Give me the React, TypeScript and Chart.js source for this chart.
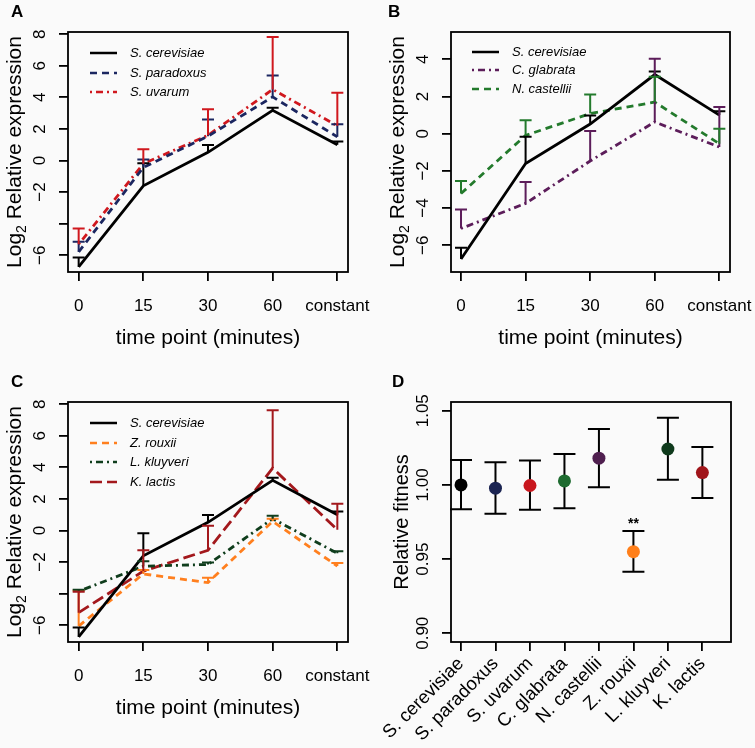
import React, { useEffect, useRef } from 'react';
import { Chart, registerables } from 'chart.js';

Chart.register(...registerables);

const FONT = "'Liberation Sans', Arial, Helvetica, sans-serif";

// ---------- data ----------
const timeLabels = ['0', '15', '30', '60', 'constant'];
const timeIdx = [1, 2, 3, 4, 5];

const cerevisiae = [-6.74, -1.6, 0.52, 3.18, 1.0];
const cerevisiaeUp = [-6.14, -0.17, 0.98, 3.34, 1.21];
const paradoxus = [-5.79, -0.44, 1.54, 4.03, 1.5];
const paradoxusUp = [-5.15, 0.06, 2.6, 5.38, 2.3];
const uvarum = [-5.3, -0.2, 1.6, 4.5, 2.2];
const uvarumUp = [-4.31, 0.72, 3.25, 7.83, 4.29];
const glabrata = [-5.1, -3.75, -1.47, 0.63, -0.72];
const glabrataUp = [-4.08, -2.6, 0.14, 4.03, 1.43];
const castellii = [-3.22, -0.09, 1.08, 1.7, -0.54];
const castelliiUp = [-2.54, 0.72, 2.11, 3.06, 0.27];
const rouxii = [-6.05, -2.75, -3.3, 0.58, -2.25];
const rouxiiUp = [-3.8, -2.5, -2.99, 0.75, -2.05];
const kluyveri = [-3.85, -2.26, -2.15, 0.75, -1.44];
const kluyveriUp = [-3.75, -1.94, -2.02, 0.94, -1.31];
const lactis = [-5.2, -2.57, -1.25, 3.95, 0.05];
const lactisUp = [-3.87, -1.25, 0.31, 7.62, 1.69];

const yTicksAC = [-6, -4, -2, 0, 2, 4, 6, 8];
const yTickLabelsAC = ['\u22126', '', '\u22122', '0', '2', '4', '6', '8'];
const yTicksB = [-6, -4, -2, 0, 2, 4];
const yTickLabelsB = ['\u22126', '\u22124', '\u22122', '0', '2', '4'];

const species = ['S. cerevisiae', 'S. paradoxus', 'S. uvarum', 'C. glabrata', 'N. castellii', 'Z. rouxii', 'L. kluyveri', 'K. lactis'];
const speciesIdx = [1, 2, 3, 4, 5, 6, 7, 8];
const fitness = [1.0, 0.9978, 0.9996, 1.0027, 1.018, 0.955, 1.0242, 1.0083];
const fitnessLow = [0.9836, 0.9805, 0.9832, 0.9843, 0.9984, 0.9415, 1.0034, 0.9912];
const fitnessHigh = [1.0168, 1.0153, 1.0164, 1.0209, 1.0377, 0.9689, 1.0453, 1.0256];
const significance = ['', '', '', '', '', '**', '', ''];
const fitnessTicks = [0.9, 0.95, 1.0, 1.05];
const fitnessTickLabels = ['0.90', '0.95', '1.00', '1.05'];

// ---------- styles ----------
const DASHED = [7, 5];
const DOTDASH = [2, 4, 7, 4];
const LONGDASH = [12, 5];

type Series = { name: string; values: number[]; upper: number[]; color: string; dash: number[] };

type LinePanel = {
  letter: string;
  left: number; top: number; width: number; height: number;
  series: Series[];
  xMin: number; xMax: number; yMin: number; yMax: number;
  yTicks: number[]; yTickLabels: string[];
  areaLeft: number; padRight: number; xAxisHeight: number;
  legendYs: number[]; legendX0: number; legendX1: number; legendTextX: number;
};

const panelA: LinePanel = {
  letter: 'A', left: 0, top: 0, width: 376, height: 370,
  series: [
    { name: 'S. cerevisiae', values: cerevisiae, upper: cerevisiaeUp, color: '#000000', dash: [] },
    { name: 'S. paradoxus', values: paradoxus, upper: paradoxusUp, color: '#1b2660', dash: DASHED },
    { name: 'S. uvarum', values: uvarum, upper: uvarumUp, color: '#d0181e', dash: DOTDASH },
  ],
  xMin: 0.835, xMax: 5.165, yMin: -7.06, yMax: 8.14,
  yTicks: yTicksAC, yTickLabels: yTickLabelsAC,
  areaLeft: 68, padRight: 28, xAxisHeight: 98,
  legendYs: [53, 73, 92], legendX0: 90, legendX1: 117, legendTextX: 130,
};

const panelB: LinePanel = {
  letter: 'B', left: 376, top: 0, width: 379, height: 370,
  series: [
    { name: 'S. cerevisiae', values: cerevisiae, upper: cerevisiaeUp, color: '#000000', dash: [] },
    { name: 'C. glabrata', values: glabrata, upper: glabrataUp, color: '#5c1d5a', dash: DOTDASH },
    { name: 'N. castellii', values: castellii, upper: castelliiUp, color: '#237a2c', dash: DASHED },
  ],
  xMin: 0.845, xMax: 5.165, yMin: -7.44, yMax: 5.47,
  yTicks: yTicksB, yTickLabels: yTickLabelsB,
  areaLeft: 75, padRight: 25, xAxisHeight: 98,
  legendYs: [52, 70, 89], legendX0: 96, legendX1: 123, legendTextX: 136,
};

const panelC: LinePanel = {
  letter: 'C', left: 0, top: 370, width: 376, height: 378,
  series: [
    { name: 'S. cerevisiae', values: cerevisiae, upper: cerevisiaeUp, color: '#000000', dash: [] },
    { name: 'Z. rouxii', values: rouxii, upper: rouxiiUp, color: '#ff7f1e', dash: DASHED },
    { name: 'L. kluyveri', values: kluyveri, upper: kluyveriUp, color: '#0f3d1c', dash: DOTDASH },
    { name: 'K. lactis', values: lactis, upper: lactisUp, color: '#a3181c', dash: LONGDASH },
  ],
  xMin: 0.835, xMax: 5.165, yMin: -7.06, yMax: 8.14,
  yTicks: yTicksAC, yTickLabels: yTickLabelsAC,
  areaLeft: 68, padRight: 28, xAxisHeight: 106,
  legendYs: [53, 73, 92, 112], legendX0: 90, legendX1: 117, legendTextX: 130,
};

const fitnessColors = ['#000000', '#1b2452', '#c8161d', '#1e6b30', '#4f1f4f', '#ff7f1a', '#0f3a1c', '#a0151a'];

// ---------- helpers ----------
function drawRotatedText(ctx: CanvasRenderingContext2D, x: number, y: number, segs: { text: string; size: number; dy?: number }[]) {
  ctx.save();
  ctx.translate(x, y);
  ctx.rotate(-Math.PI / 2);
  ctx.textAlign = 'left';
  ctx.textBaseline = 'alphabetic';
  let total = 0;
  for (const s of segs) {
    ctx.font = `${s.size}px ${FONT}`;
    total += ctx.measureText(s.text).width;
  }
  let cx = -total / 2;
  for (const s of segs) {
    ctx.font = `${s.size}px ${FONT}`;
    ctx.fillText(s.text, cx, s.dy || 0);
    cx += ctx.measureText(s.text).width;
  }
  ctx.restore();
}

function drawBox(chart: any) {
  const { ctx, chartArea: a } = chart;
  ctx.save();
  ctx.strokeStyle = '#000';
  ctx.lineWidth = 1.8;
  ctx.strokeRect(a.left, a.top, a.right - a.left, a.bottom - a.top);
  ctx.restore();
}

function drawYTickLabels(chart: any, ticks: number[], labels: string[], size: number) {
  const { ctx, chartArea: a } = chart;
  const ys = chart.scales.y;
  ctx.save();
  ctx.fillStyle = '#000';
  ctx.font = `${size}px ${FONT}`;
  ticks.forEach((v, i) => {
    const y = ys.getPixelForValue(v);
    ctx.save();
    ctx.translate(a.left - 23, y);
    ctx.rotate(-Math.PI / 2);
    ctx.textAlign = 'center';
    ctx.textBaseline = 'alphabetic';
    ctx.fillText(labels[i], 0, 0);
    ctx.restore();
  });
  ctx.restore();
}

function drawLetter(chart: any, letter: string, x: number) {
  const ctx = chart.ctx;
  ctx.save();
  ctx.fillStyle = '#000';
  ctx.font = `bold 17px ${FONT}`;
  ctx.textAlign = 'left';
  ctx.textBaseline = 'alphabetic';
  ctx.fillText(letter, x, 17);
  ctx.restore();
}

function makeLinePlugin(p: LinePanel) {
  return {
    id: 'decor' + p.letter,
    afterDatasetsDraw(chart: any) {
      const { ctx } = chart;
      const xs = chart.scales.x;
      const ys = chart.scales.y;
      ctx.save();
      ctx.lineWidth = 2;
      ctx.setLineDash([]);
      p.series.forEach((s) => {
        ctx.strokeStyle = s.color;
        s.values.forEach((v, j) => {
          const x = xs.getPixelForValue(timeIdx[j]);
          const y0 = ys.getPixelForValue(v);
          const y1 = ys.getPixelForValue(s.upper[j]);
          ctx.beginPath();
          ctx.moveTo(x, y0);
          ctx.lineTo(x, y1);
          ctx.moveTo(x - 6, y1);
          ctx.lineTo(x + 6, y1);
          ctx.stroke();
        });
      });
      ctx.restore();
    },
    afterDraw(chart: any) {
      const { ctx, chartArea: a } = chart;
      drawBox(chart);
      drawYTickLabels(chart, p.yTicks, p.yTickLabels, 17);
      ctx.save();
      ctx.fillStyle = '#000';
      drawRotatedText(ctx, a.left - 47, (a.top + a.bottom) / 2, [
        { text: 'Log', size: 21 },
        { text: '2', size: 14, dy: 5 },
        { text: ' Relative expression', size: 21 },
      ]);
      ctx.font = `21px ${FONT}`;
      ctx.textAlign = 'center';
      ctx.textBaseline = 'alphabetic';
      ctx.fillText('time point (minutes)', (a.left + a.right) / 2, 344);
      // legend
      p.series.forEach((s, i) => {
        const y = p.legendYs[i];
        ctx.strokeStyle = s.color;
        ctx.lineWidth = 2.5;
        ctx.setLineDash(s.dash);
        ctx.beginPath();
        ctx.moveTo(p.legendX0, y);
        ctx.lineTo(p.legendX1, y);
        ctx.stroke();
        ctx.setLineDash([]);
        ctx.fillStyle = '#000';
        ctx.font = `italic 13px ${FONT}`;
        ctx.textAlign = 'left';
        ctx.textBaseline = 'middle';
        ctx.fillText(s.name, p.legendTextX, y);
      });
      ctx.restore();
      drawLetter(chart, p.letter, p.letter === 'B' ? 12 : 11);
    },
  };
}

function lineConfig(p: LinePanel): any {
  const grid = { drawOnChartArea: false, drawTicks: true, tickLength: 9, tickWidth: 1.8, tickColor: '#000', color: '#000', lineWidth: 1.8 };
  return {
    type: 'line',
    data: {
      datasets: p.series.map((s) => ({
        label: s.name,
        data: s.values.map((v, i) => ({ x: timeIdx[i], y: v })),
        borderColor: s.color,
        backgroundColor: s.color,
        borderDash: s.dash,
        borderWidth: 2.8,
        pointRadius: 0,
        tension: 0,
        fill: false,
      })),
    },
    options: {
      responsive: false,
      animation: false,
      devicePixelRatio: 1,
      events: [],
      layout: { padding: { left: 0, right: p.padRight, top: 32, bottom: 0 } },
      plugins: { legend: { display: false }, tooltip: { enabled: false } },
      scales: {
        x: {
          type: 'linear',
          min: p.xMin,
          max: p.xMax,
          afterBuildTicks: (s: any) => { s.ticks = timeIdx.map((v) => ({ value: v })); },
          afterFit: (s: any) => { s.height = p.xAxisHeight; s.paddingLeft = 0; s.paddingRight = 0; },
          ticks: {
            callback: (_v: any, i: number) => timeLabels[i],
            font: { family: FONT, size: 17 },
            color: '#000',
            padding: 15,
            autoSkip: false,
            maxRotation: 0,
            minRotation: 0,
          },
          grid,
          border: { display: false },
        },
        y: {
          type: 'linear',
          min: p.yMin,
          max: p.yMax,
          afterBuildTicks: (s: any) => { s.ticks = p.yTicks.map((v) => ({ value: v })); },
          afterFit: (s: any) => { s.width = p.areaLeft; s.paddingTop = 0; s.paddingBottom = 0; },
          ticks: { display: false },
          grid,
          border: { display: false },
        },
      },
    },
    plugins: [makeLinePlugin(p)],
  };
}

function fitnessConfig(): any {
  const grid = { drawOnChartArea: false, drawTicks: true, tickLength: 9, tickWidth: 1.8, tickColor: '#000', color: '#000', lineWidth: 1.8 };
  const plugin = {
    id: 'decorD',
    beforeDatasetsDraw(chart: any) {
      const { ctx } = chart;
      const xs = chart.scales.x;
      const ys = chart.scales.y;
      ctx.save();
      ctx.strokeStyle = '#000';
      ctx.lineWidth = 2;
      fitness.forEach((_v, i) => {
        const x = xs.getPixelForValue(speciesIdx[i]);
        const lo = ys.getPixelForValue(fitnessLow[i]);
        const hi = ys.getPixelForValue(fitnessHigh[i]);
        ctx.beginPath();
        ctx.moveTo(x, lo);
        ctx.lineTo(x, hi);
        ctx.moveTo(x - 11, lo);
        ctx.lineTo(x + 11, lo);
        ctx.moveTo(x - 11, hi);
        ctx.lineTo(x + 11, hi);
        ctx.stroke();
        if (significance[i]) {
          ctx.fillStyle = '#000';
          ctx.font = `bold 14px ${FONT}`;
          ctx.textAlign = 'center';
          ctx.textBaseline = 'alphabetic';
          ctx.fillText(significance[i], x, hi - 3);
        }
      });
      ctx.restore();
    },
    afterDraw(chart: any) {
      const { ctx, chartArea: a } = chart;
      drawBox(chart);
      drawYTickLabels(chart, fitnessTicks, fitnessTickLabels, 17);
      ctx.save();
      ctx.fillStyle = '#000';
      drawRotatedText(ctx, a.left - 43, (a.top + a.bottom) / 2, [{ text: 'Relative fitness', size: 20 }]);
      ctx.restore();
      drawLetter(chart, 'D', 16);
    },
  };
  return {
    type: 'scatter',
    data: {
      datasets: [
        {
          label: 'Relative fitness',
          data: fitness.map((v, i) => ({ x: speciesIdx[i], y: v })),
          pointRadius: 6.5,
          pointBorderWidth: 0,
          pointBackgroundColor: fitnessColors,
          pointBorderColor: fitnessColors,
        },
      ],
    },
    options: {
      responsive: false,
      animation: false,
      devicePixelRatio: 1,
      events: [],
      layout: { padding: { left: 0, right: 24, top: 32, bottom: 0 } },
      plugins: { legend: { display: false }, tooltip: { enabled: false } },
      scales: {
        x: {
          type: 'linear',
          min: 0.71,
          max: 8.83,
          afterBuildTicks: (s: any) => { s.ticks = speciesIdx.map((v) => ({ value: v })); },
          afterFit: (s: any) => { s.height = 106; s.paddingLeft = 0; s.paddingRight = 0; },
          ticks: {
            callback: (_v: any, i: number) => species[i],
            font: { family: FONT, size: 18.5 },
            color: '#000',
            padding: 2,
            autoSkip: false,
            maxRotation: 45,
            minRotation: 45,
          },
          grid,
          border: { display: false },
        },
        y: {
          type: 'linear',
          min: 0.8941,
          max: 1.0559,
          afterBuildTicks: (s: any) => { s.ticks = fitnessTicks.map((v) => ({ value: v })); },
          afterFit: (s: any) => { s.width = 75; s.paddingTop = 0; s.paddingBottom = 0; },
          ticks: { display: false },
          grid,
          border: { display: false },
        },
      },
    },
    plugins: [plugin],
  };
}

function ChartCanvas({ left, top, width, height, make }: { left: number; top: number; width: number; height: number; make: () => any }) {
  const ref = useRef<HTMLCanvasElement | null>(null);
  useEffect(() => {
    if (!ref.current) return;
    const chart = new Chart(ref.current, make());
    return () => chart.destroy();
  }, []);
  return (
    <canvas
      ref={ref}
      width={width}
      height={height}
      style={{ position: 'absolute', left, top, width, height }}
    />
  );
}

export default function App() {
  return (
    <div style={{ position: 'fixed', left: 0, top: 0, width: 755, height: 748, background: '#fafafa', overflow: 'hidden' }}>
      {[panelA, panelB, panelC].map((p) => (
        <ChartCanvas key={p.letter} left={p.left} top={p.top} width={p.width} height={p.height} make={() => lineConfig(p)} />
      ))}
      <ChartCanvas left={376} top={370} width={379} height={378} make={fitnessConfig} />
    </div>
  );
}
